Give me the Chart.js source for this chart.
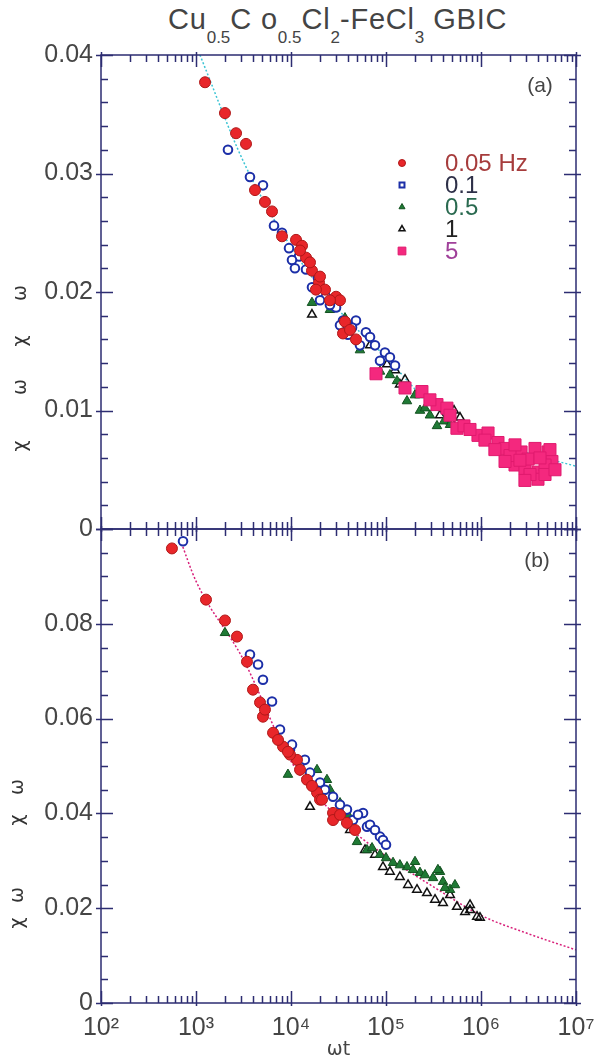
<!DOCTYPE html>
<html><head><meta charset="utf-8">
<script src="https://cdn.jsdelivr.net/npm/chart.js@4.4.1/dist/chart.umd.min.js"></script>
<style>
html,body{margin:0;padding:0;background:#fff;width:594px;height:1063px;overflow:hidden;position:relative;}
#title{position:absolute;left:168px;top:5px;white-space:nowrap;font-family:"Liberation Sans",Arial,sans-serif;font-size:29px;line-height:29px;letter-spacing:0.8px;color:#444;}
#title span{font-size:17px;position:relative;top:14px;letter-spacing:0;}
canvas{position:absolute;left:0;}
#ca{top:0;}
#cb{top:520px;}
</style></head>
<body>
<div id="title">Cu<span>0.5</span>C o<span>0.5</span>Cl<span>2</span>-FeCl<span>3</span> GBIC</div>
<canvas id="ca" width="594" height="540"></canvas>
<canvas id="cb" width="594" height="543"></canvas>
<script>
// ---------- data ----------
const xTickLabels = ['10\u00B2','10\u00B3','10\u2074','10\u2075','10\u2076','10\u2077'];
const freqLabels = ['0.05 Hz','0.1','0.5','1','5'];
const yTicksA = [0, 0.01, 0.02, 0.03, 0.04];
const yTicksB = [0, 0.02, 0.04, 0.06, 0.08, 0.1];

// panel (a)
const a05x = [1245,2018,2640,3360,4180,5320,6310,8040,11300,13060,14390,16630,19720,22800,29800,35260,48300,32800,25700,12450,15850,20200,18300,37000,41800];
const a05y = [0.0377,0.0351,0.0334,0.0325,0.0286,0.0276,0.0268,0.0247,0.0244,0.0239,0.0229,0.0218,0.0208,0.0202,0.0196,0.0165,0.0160,0.0193,0.0193,0.0235,0.0225,0.0213,0.0202,0.0175,0.0168];
const a1x = [2170,3700,5070,6620,8040,9530,12140,14390,16630,23300,29800,35260,48300,61500,67900,97500,86500,53200,39800,20200,10240,11000,19200,25700,32800,43900,76600,110000,124500];
const a1y = [0.0320,0.0297,0.0290,0.0256,0.0250,0.0237,0.0230,0.0219,0.0204,0.0196,0.0187,0.0176,0.0176,0.0166,0.0162,0.0149,0.0142,0.0155,0.0164,0.0193,0.0227,0.0220,0.0212,0.0189,0.0172,0.0170,0.0155,0.0145,0.0138];
const a5x = [16630,40700,86500,130600,166300,228000,344000,408000,53200,110000,25700,37000,202000,290000,472000,257000];
const a5y = [0.0191,0.0173,0.0133,0.0125,0.0108,0.0100,0.0087,0.0091,0.0151,0.0130,0.0185,0.0178,0.0113,0.0096,0.0088,0.0102];
const a10x = [16630,102600,140000,520000,483000,228000,67900,158500,370000,601000,124500];
const a10y = [0.0181,0.0139,0.0122,0.0100,0.0091,0.0113,0.0155,0.0126,0.0096,0.0094,0.0134];
const a50x = [78500,158500,239000,344000,438000,558000,662000,929000,1186000,1510000,1790000,2640000,3700000,5070000,2280000,2900000,3980000,5580000,3980000,3130000,2020000,4720000,1100000,1400000,1790000,2570000,3280000,4720000,5320000,6010000,766000,472000,290000,2280000,4180000,2900000];
const a50y = [0.0131,0.0119,0.0116,0.0105,0.0102,0.0085,0.0087,0.0079,0.0081,0.0073,0.0068,0.0065,0.0068,0.0065,0.0054,0.0051,0.0048,0.0057,0.0042,0.0059,0.0062,0.0054,0.0075,0.0067,0.0057,0.0058,0.0046,0.0046,0.0067,0.0050,0.0084,0.0096,0.0109,0.0071,0.0060,0.0041];
const fitAx = [1100,3162,10000,31623,100000,316228,1000000,3162278,10000000];
const fitAy = [0.0400,0.0310,0.0238,0.0185,0.0145,0.0103,0.0080,0.0064,0.0053];

// panel (b)
const b05x = [558,1274,2018,2700,3440,3980,4720,5070,6470,8240,11560,14730,18790,27700,38800,27700,9750,20200,5320,7300,9290,12450,16630,21200,32800,47200];
const b05y = [0.0959,0.0851,0.0807,0.0773,0.0720,0.0661,0.0634,0.0604,0.0570,0.0541,0.0513,0.0471,0.0444,0.0401,0.0380,0.0386,0.0524,0.0429,0.0619,0.0555,0.0530,0.0492,0.0458,0.0429,0.0397,0.0365];
const b1x = [730,3700,5070,6310,7660,9750,12450,15850,20200,27700,38800,57300,63100,86500,92900,45000,32800,67900,4500,10240,14000,22800,50700,76600,100000];
const b1y = [0.0974,0.0735,0.0682,0.0636,0.0577,0.0534,0.0507,0.0486,0.0465,0.0435,0.0408,0.0401,0.0372,0.0351,0.0344,0.0386,0.0418,0.0376,0.0714,0.0545,0.0513,0.0450,0.0397,0.0365,0.0334];
const b5x = [2018,9290,18790,23900,32800,49500,63100,118600,166300,228000,312600,398000,472000,192300,140000,370000,86500,25700,39800,71300,100000,257000,352000,418000,532000,202000];
const b5y = [0.0781,0.0482,0.0492,0.0471,0.0422,0.0340,0.0323,0.0296,0.0287,0.0275,0.0264,0.0256,0.0239,0.0281,0.0291,0.0277,0.0313,0.0450,0.0397,0.0327,0.0306,0.0270,0.0281,0.0243,0.0249,0.0298];
const b10x = [15850,30500,92900,140000,212000,270000,398000,558000,766000,908000,60100,41800,76600,110000,170600,328000,472000,679000,975000,766000];
const b10y = [0.0414,0.0393,0.0287,0.0266,0.0239,0.0232,0.0211,0.0203,0.0196,0.0182,0.0323,0.0365,0.0313,0.0277,0.0249,0.0218,0.0228,0.0192,0.0180,0.0207];
const fitBx = [680,1000,3162,10000,31623,100000,316228,1000000,3162278,10000000];
const fitBy = [0.0978,0.0890,0.0724,0.0510,0.0390,0.0310,0.0245,0.0185,0.0146,0.0112];

// ---------- styles ----------
const ST = [
  {pointStyle:'circle',  pointRadius:5.5, backgroundColor:'#e8262a', borderColor:'#b01818', borderWidth:1},
  {pointStyle:'circle',  pointRadius:4.3, backgroundColor:'#ffffff', borderColor:'#1c2fa8', borderWidth:2},
  {pointStyle:'triangle',pointRadius:5.5, backgroundColor:'#1f7a35', borderColor:'#12501f', borderWidth:1},
  {pointStyle:'triangle',pointRadius:5,   backgroundColor:'rgba(255,255,255,0)', borderColor:'#111111', borderWidth:1.5},
  {pointStyle:'rect',    pointRadius:8.5, backgroundColor:'#f4287e', borderColor:'#e01a6e', borderWidth:1}
];
const legendTextColors = ['#a63c3c','#2e3048','#2a6a50','#222222','#a0409a'];
const legendMarkers = ['circle','rect','triangle','triangle','rect'];

const pts = (xs, ys) => xs.map((x,i) => ({x, y: ys[i]}));
const sc = (si, xs, ys) => Object.assign({type:'scatter', data: pts(xs,ys), order:1, pointHoverRadius:0}, ST[si]);
const fit = (xs, ys, c) => ({type:'line', data: pts(xs,ys), showLine:true, pointRadius:0, borderColor:c, borderWidth:1.5, borderDash:[2,2], cubicInterpolationMode:'monotone', fill:false, order:10});

const FONT = '"Liberation Sans", Arial, sans-serif';
const TXT = '#454545';
const NAVY = '#2d2d72';

const framePlugin = {
  id: 'framePlugin',
  afterDatasetsDraw(chart, args, o) {
    const {ctx, chartArea:{left,right,top,bottom}, scales:{x,y}} = chart;
    ctx.save();
    ctx.strokeStyle = NAVY; ctx.lineWidth = 1.5;
    ctx.strokeRect(left, top, right-left, bottom-top);
    ctx.beginPath();
    for (let k = 2; k <= 7; k++) {
      for (let m = 1; m <= 9; m++) {
        const v = m * Math.pow(10, k);
        if (v > 1e7) break;
        const px = Math.round(x.getPixelForValue(v)) + 0.5;
        const maj = m === 1, L = maj ? 12 : 7, E = maj ? 3 : 0;
        ctx.moveTo(px, top - E); ctx.lineTo(px, top + L);
        ctx.moveTo(px, bottom + E); ctx.lineTo(px, bottom - L);
      }
    }
    const n = Math.round(o.max / o.minor);
    for (let i = 0; i <= n; i++) {
      const v = i * o.minor;
      const py = Math.round(y.getPixelForValue(v)) + 0.5;
      const r = v / o.major, maj = Math.abs(r - Math.round(r)) < 1e-6;
      const L = maj ? 12 : 7, E = maj ? 5 : 0;
      ctx.moveTo(left - E, py); ctx.lineTo(left + L, py);
      ctx.moveTo(right + E, py); ctx.lineTo(right - L, py);
    }
    ctx.stroke();
    // panel tag
    ctx.fillStyle = TXT;
    ctx.font = '21px ' + FONT;
    ctx.textAlign = 'center'; ctx.textBaseline = 'middle';
    ctx.fillText(o.tag, o.tagX, o.tagY);
    // y-axis label glyphs (rotated)
    ctx.font = '19px "DejaVu Sans", sans-serif';
    ctx.fillStyle = '#333';
    o.yLabel.forEach(g => {
      ctx.save(); ctx.translate(o.yLabelX, g.y); ctx.rotate(-Math.PI/2);
      ctx.fillText(g.t, 0, 0); ctx.restore();
    });
    // legend
    if (o.legend) {
      freqLabels.forEach((lab, i) => {
        const yy = o.legend.y0 + i * o.legend.dy;
        const s = ST[i];
        ctx.fillStyle = s.backgroundColor; ctx.strokeStyle = s.borderColor; ctx.lineWidth = s.borderWidth;
        Chart.helpers.drawPoint(ctx, {pointStyle: legendMarkers[i], radius: i===4 ? 5.5 : 3.5, borderWidth: s.borderWidth}, o.legend.mx, yy);
        ctx.fillStyle = legendTextColors[i];
        ctx.font = '24px ' + FONT;
        ctx.textAlign = 'left'; ctx.textBaseline = 'middle';
        ctx.fillText(lab, o.legend.tx, yy + 1);
      });
    }
    ctx.restore();
  }
};

const yFmt = (ticks) => (v) => {
  const t = ticks.find(t => Math.abs(t - v) < 1e-9);
  if (t === undefined || t === 0.1) return '';
  return t === 0 ? '0' : t.toFixed(2);
};

function makeChart(id, datasets, cfg) {
  return new Chart(document.getElementById(id), {
    data: {datasets},
    plugins: [framePlugin],
    options: {
      responsive: false, animation: false, devicePixelRatio: 1,
      layout: {padding: {top: cfg.padTop, right: 18, left: 0, bottom: 0}},
      plugins: {legend: {display: false}, tooltip: {enabled: false}, framePlugin: cfg.frame},
      scales: {
        x: {
          type: 'logarithmic', min: 100, max: 1e7, position: 'bottom',
          grid: {display: false, drawTicks: false}, border: {display: false},
          ticks: {
            display: cfg.showX, autoSkip: false, maxRotation: 0, padding: 10,
            color: TXT, font: {family: FONT, size: 25},
            callback: (v) => {
              const l = Math.log10(v), r = Math.round(l);
              return Math.abs(l - r) < 1e-9 && r >= 2 && r <= 7 ? xTickLabels[r - 2] : '';
            }
          },
          title: {display: cfg.showX, text: '\u03C9t', color: TXT, font: {family: '"DejaVu Sans", sans-serif', size: 19}, padding: {top: 0, bottom: 2}},
          afterFit: (s) => { s.height = cfg.xh; s.paddingLeft = 0; s.paddingRight = 0; }
        },
        y: {
          min: 0, max: cfg.ymax,
          grid: {display: false, drawTicks: false}, border: {display: false},
          ticks: {stepSize: cfg.step, padding: 8, color: TXT, font: {family: FONT, size: 25}, callback: yFmt(cfg.yticks)},
          afterFit: (s) => { s.width = 101; s.paddingTop = 0; s.paddingBottom = 0; }
        }
      }
    }
  });
}

makeChart('ca', [
  fit(fitAx, fitAy, '#3cc4d4'),
  sc(4, a50x, a50y), sc(0, a05x, a05y), sc(1, a1x, a1y), sc(2, a5x, a5y), sc(3, a10x, a10y)
], {
  padTop: 55, xh: 11, showX: false, ymax: 0.04, step: 0.01, yticks: yTicksA,
  frame: {minor: 0.002, major: 0.01, max: 0.04, tag: '(a)', tagX: 540, tagY: 86,
    yLabelX: 21, yLabel: [{t:'\u03C7', y:446},{t:'\u03C9', y:387},{t:'\u03C7', y:341},{t:'\u03C9', y:293}],
    legend: {mx: 402, tx: 445, y0: 163, dy: 22}}
});

makeChart('cb', [
  fit(fitBx, fitBy, '#d8207a'),
  sc(0, b05x, b05y), sc(1, b1x, b1y), sc(2, b5x, b5y), sc(3, b10x, b10y)
], {
  padTop: 9, xh: 60, showX: true, ymax: 0.1, step: 0.02, yticks: yTicksB,
  frame: {minor: 0.005, major: 0.02, max: 0.1, tag: '(b)', tagX: 537, tagY: 41,
    yLabelX: 18, yLabel: [{t:'\u03C7', y:403},{t:'\u03C9', y:375},{t:'\u03C7', y:300},{t:'\u03C9', y:267}],
    legend: null}
});
</script>
</body></html>
